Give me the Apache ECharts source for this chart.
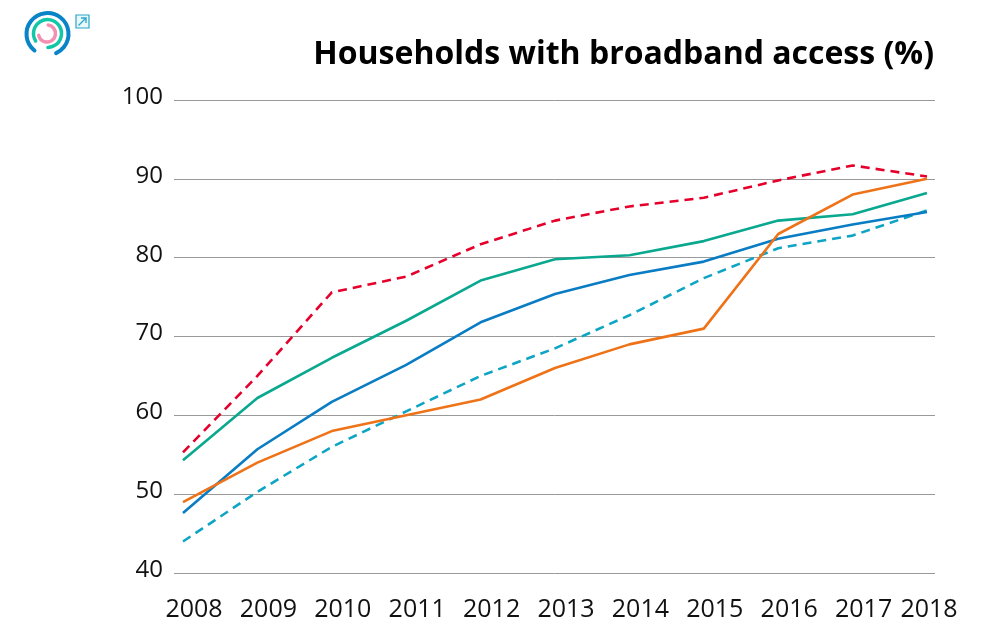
<!DOCTYPE html>
<html><head><meta charset="utf-8"><style>html,body{margin:0;padding:0;background:#fff}#c{width:1000px;height:630px}</style>
<script src="https://cdn.jsdelivr.net/npm/echarts@6/dist/echarts.min.js"></script></head>
<body><div id="c"></div><script>
const years=['2008','2009','2010','2011','2012','2013','2014','2015','2016','2017','2018'];
const redDash=[55.3,65,75.6,77.6,81.7,84.7,86.5,87.6,89.8,91.7,90.3];
const green=[54.3,62.2,67.3,72,77.1,79.8,80.3,82.1,84.7,85.5,88.2];
const blue=[47.6,55.7,61.7,66.4,71.8,75.4,77.8,79.5,82.4,84.2,85.8];
const orange=[49,54,58,60,62,66,69,71,83,88,90];
const tealDash=[44,50.3,56,60.5,65,68.5,72.7,77.4,81.2,82.8,86];
const titleText='Households with broadband access (%)';
const font='"Open Sans"';
const mk=(d,c,t)=>({type:'line',xAxisIndex:0,yAxisIndex:0,data:d,symbol:'none',smooth:false,lineStyle:{color:c,width:2.6,type:t||'solid',cap:'butt'},itemStyle:{color:c}});
const chart=echarts.init(document.getElementById('c'),null,{renderer:'canvas'});
const arc=(r,a,b,c,w,cx,cy)=>({type:'arc',shape:{cx:cx,cy:cy,r:r,startAngle:a,endAngle:b,clockwise:true},style:{stroke:c,lineWidth:w,fill:null,lineCap:'round'}});
chart.setOption({animation:false,backgroundColor:'#fff',
title:{text:titleText,right:61,top:34,textStyle:{fontFamily:font,fontSize:32,fontWeight:700,color:'#000'}},
grid:[{left:183,right:73,top:100,bottom:57},{left:174,right:65,top:100,bottom:57}],
xAxis:[{type:'category',gridIndex:0,data:years,boundaryGap:false,axisLine:{show:false},axisTick:{show:false},splitLine:{show:false},
axisLabel:{interval:0,margin:24,showMinLabel:true,showMaxLabel:true,
formatter:(v)=>v==='2018'?'{b|'+v+'}':'{a|'+v+'}',
rich:{a:{fontFamily:font,fontSize:25,color:'#111',padding:[0,0,0,22]},b:{fontFamily:font,fontSize:25,color:'#111',padding:[0,0,0,4]}}}},
{type:'value',gridIndex:1,min:0,max:1,show:false,splitLine:{show:false}}],
yAxis:[{type:'value',gridIndex:0,min:40,max:100,interval:10,show:false,splitLine:{show:false}},
{type:'value',gridIndex:1,min:40,max:100,interval:10,axisLine:{show:false},axisTick:{show:false},
axisLabel:{fontFamily:font,fontSize:24,color:'#111',margin:11,verticalAlign:'bottom',lineHeight:6},
splitLine:{lineStyle:{color:'#999',width:1}}}],
series:[mk(redDash,'#e4002b',[9,6]),mk(tealDash,'#0ea5c4',[9,6]),mk(green,'#0aa88f'),mk(blue,'#0a7cc4'),mk(orange,'#ee7318'),
{type:'line',xAxisIndex:1,yAxisIndex:1,data:[],silent:true}],
graphic:[
arc(21,2.24,7.43,'#0a84c8',4,47.5,34),
arc(14,2.58,7.82,'#12c6a8',3.5,47.5,33.5),
arc(8.5,-1.43,2.92,'#f48fb1',3.5,47,33.5),
{type:'rect',shape:{x:76,y:15,width:13,height:13},style:{stroke:'#2aa5c8',lineWidth:1.2,fill:'#e8f7fb'}},
{type:'line',shape:{x1:78.5,y1:25.5,x2:86,y2:18},style:{stroke:'#2aa5c8',lineWidth:1.3}},
{type:'polyline',shape:{points:[[81,18],[86,18],[86,23]]},style:{stroke:'#2aa5c8',lineWidth:1.3,fill:null}}
]});
</script></body></html>
